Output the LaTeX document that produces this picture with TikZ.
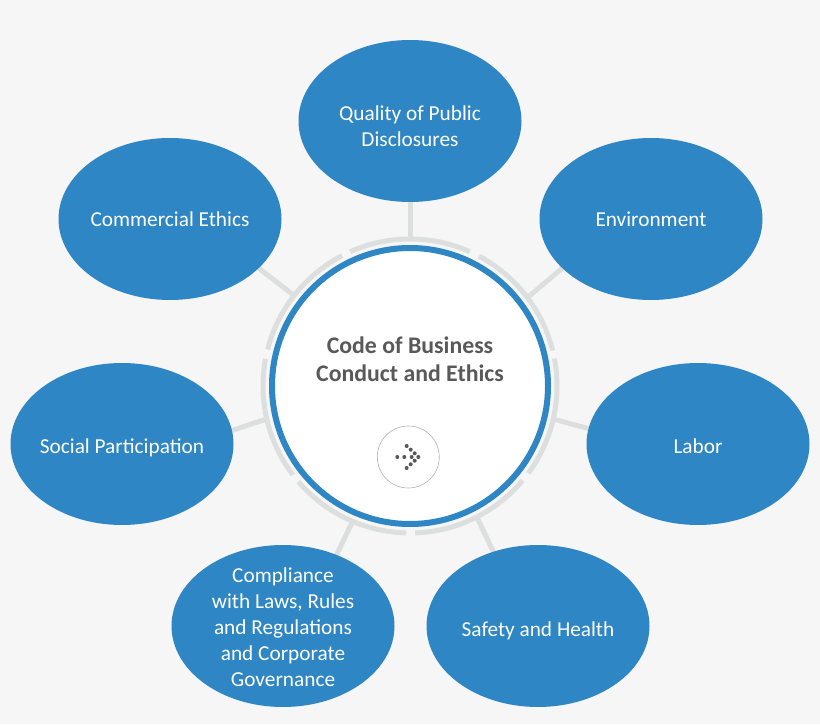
\documentclass[tikz,border=0pt]{standalone}
\usepackage{fontspec}
\setmainfont{Carlito}
\usepackage{xcolor}
\usetikzlibrary{shapes.geometric, backgrounds}
\definecolor{bubbleblue}{HTML}{2E86C4}
\definecolor{ringgray}{HTML}{DDDEDE}
\definecolor{pagegray}{HTML}{F6F6F6}
\definecolor{titlegray}{HTML}{595959}

\begin{document}
\begin{tikzpicture}[x=1pt, y=1pt, bubble/.style={ellipse, fill=bubbleblue, text=white, minimum width=223pt, minimum height=162pt, inner sep=-15pt, outer sep=0pt, align=center, font=\fontsize{21.3}{26}\selectfont}, drop/.style={execute at begin node={\rule{0pt}{#1}}}, hub/.style={circle, draw=bubbleblue, fill=white, line width=6pt, minimum size=276pt, inner sep=0pt}, ringnode/.style={circle, draw=none, minimum size=296pt, inner sep=0pt, outer sep=0pt}, spoke/.style={draw=ringgray, line width=5pt, shorten >=-4pt}, ringarc/.style={draw=ringgray, line width=5pt}, titlenode/.style={align=center, text=titlegray, font=\fontsize{23.8}{28}\selectfont\bfseries}, arrowbutton/.style={circle, draw=black!30, fill=white, line width=0.6pt, minimum size=62pt, inner sep=0pt}]

    \useasboundingbox (0,0) rectangle (820,724);

    %Nodes
    \node[ringnode](ring) at (410,338){};
    \node[hub](centre) at (410,338){};
    \node[titlenode](title) at (410,365){Code of Business\\Conduct and Ethics};
    \node[arrowbutton](arrowbtn) at (408.3,267){};
    \node[bubble](quality) at (410,603){\rule{0pt}{25pt}Quality of Public\\Disclosures};
    \node[bubble](environment) at (651,505){Environment};
    \node[bubble, drop=18.5pt](labor) at (698,280){Labor};
    \node[bubble, drop=24.5pt](safety) at (538,98){Safety and Health};
    \node[bubble](compliance) at (283,98){\rule{0pt}{17pt}Compliance\\with Laws, Rules\\and Regulations\\and Corporate\\Governance};
    \node[bubble, drop=22.5pt](social) at (122,280){Social Participation};
    \node[bubble](commercial) at (170,505){Commercial Ethics};

    %Lines
    \begin{scope}[on background layer]
        \fill[pagegray] (0,0) rectangle (820,724);
        \foreach \from/\target/\to in {90/quality/270, 37.6/environment/209.5, -13.85/labor/172.7, -63.7/safety/121.9, -113.5/compliance/53, 193.85/social/7.3, 142.4/commercial/-29.5}
            \draw[spoke] (ring.\from) -- (\target.\to);
    \end{scope}

    %Ring
    \foreach \from/\to in {66/114, 14/62, -36.4/10.8, -88/-40, -139.4/-91.5, 169.3/217.2, 117.5/165.6}
        \draw[ringarc] ([shift={(\from:147pt)}]ring.center) arc[start angle=\from, end angle=\to, radius=147pt];

    %Arrow dots
    \foreach \dx/\dy in {-11/0, -4/0, 3.4/0, 10/0, -1.6/11, 2.4/7.3, 6.4/3.7, 6.4/-3.7, 2.4/-7.3, -1.6/-11}
        \fill[titlegray] ([shift={(\dx,\dy)}]arrowbtn.center) circle (2pt);

\end{tikzpicture}
\end{document}
